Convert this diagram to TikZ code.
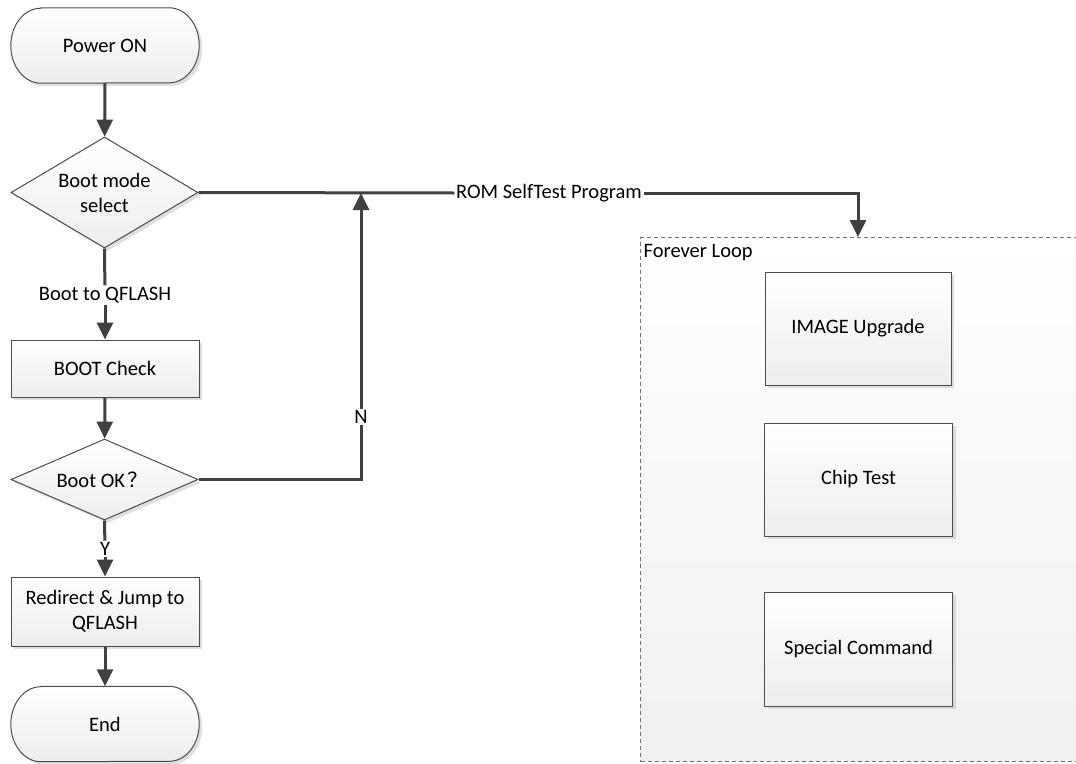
\documentclass[tikz,border=0pt]{standalone}
\usepackage{fontspec}
\setmainfont{Carlito}
\newfontfamily\cjkfont{Noto Sans CJK SC}
\usetikzlibrary{arrows.meta,shapes.geometric,shadows,backgrounds}

\tikzset{
 base/.style={font=\fontsize{20.5}{25}\selectfont, text=black},
 shd/.style={drop shadow={shadow xshift=3pt,shadow yshift=-3pt,fill=black!25,opacity=.5}},
 procbox/.style={base, draw=black!70, line width=1pt, top color=white, bottom color=black!7, shd, minimum width=188pt, inner sep=2pt, align=center},
 decis/.style={base, diamond, draw=black!70, line width=1pt, top color=white, bottom color=black!7, shd, inner sep=0pt, align=center, minimum width=187pt},
 termnode/.style={base, minimum width=188pt, minimum height=75pt, inner sep=0pt},
 termshape/.style={draw=black!70, line width=1pt, top color=white, bottom color=black!7, shd},
 conn/.style={draw=black!75, line width=3pt, -{Triangle[width=16pt,length=17pt]}},
 plainline/.style={draw=black!75, line width=3pt},
 lbl/.style={base, inner sep=1.5pt},
}
\newcommand\tshapedraw[1]{\path[termshape] ([xshift=30pt]#1.north west) -- ([xshift=-30pt]#1.north east) arc[start angle=90,end angle=-90,x radius=30pt,y radius=37.5pt] -- ([xshift=30pt]#1.south west) arc[start angle=270,end angle=90,x radius=30pt,y radius=37.5pt] -- cycle;}

\begin{document}
\begin{tikzpicture}[x=1pt,y=-1pt]
\useasboundingbox (0,0) rectangle (1076,763);

% container
\node[draw=black!55, dash pattern=on 4pt off 3pt, line width=1pt, top color=white, bottom color=black!6, minimum width=450pt, minimum height=524pt, anchor=north west, inner sep=0pt] (cont) at (640,237) {};
\node[lbl, anchor=west] (fl) at (642,253) {Forever Loop};

\node[procbox, minimum width=186pt, minimum height=113pt] (iu) at (858,328.5) {IMAGE Upgrade};
\node[procbox, minimum height=113pt] (ct) at (858.5,479.5) {Chip Test};
\node[procbox, minimum height=114pt] (sc) at (858.5,649) {Special Command};

% left column
\node[termnode] (pon) at (105,45.5) {Power ON};
\node[decis, aspect=1.7, minimum height=111pt] (bms) at (104.5,192.5) {Boot mode\\select};
\node[procbox, minimum height=57pt] (bc) at (105,368.5) {BOOT Check};
\node[decis, aspect=2.3, minimum height=81pt] (bok) at (104.5,479.5) {Boot OK\kern3pt{\cjkfont ？}\kern4pt};
\node[procbox, minimum height=69pt] (rj) at (105,611.5) {Redirect \& Jump to\\QFLASH};
\node[termnode] (end) at (105,724) {End};

\begin{scope}[on background layer]
\tshapedraw{pon}
\tshapedraw{end}
\end{scope}

% labels
\node[lbl] (lq) at (105,295) {Boot to QFLASH};
\node[lbl] (ly) at (105,549) {Y};
\node[lbl] (ln) at (361,417) {N};
\node[lbl] (lrom) at (549,193) {ROM SelfTest Program};
\coordinate (ctop) at (858,237);
\coordinate (jn) at (361,193);

% connectors
\draw[conn] (pon) -- (bms);
\draw[plainline] (bms.south) -- (lq);
\draw[conn] (lq) -- (bc);
\draw[conn] (bc) -- (bok);
\draw[plainline] (bok.south) -- (ly);
\draw[conn] (ly) -- (rj);
\draw[conn] (rj) -- (end);
\draw[plainline] (bms.east) -- (lrom.west);
\draw[conn] (lrom.east) -| (ctop);
\draw[plainline] (bok.east) -| (ln.south);
\draw[conn] (ln.north) -- (jn);
\end{tikzpicture}
\end{document}
